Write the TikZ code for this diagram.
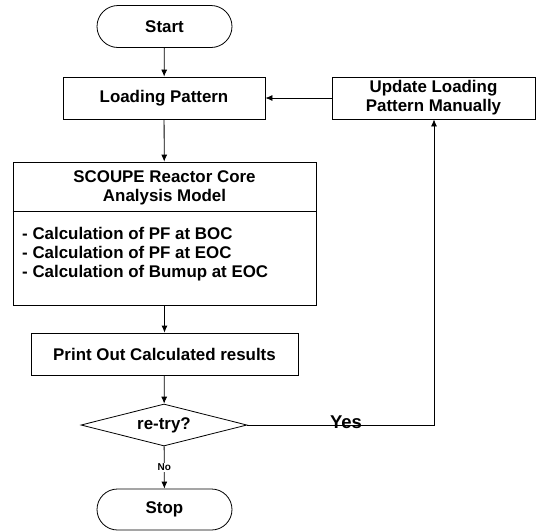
\documentclass[tikz,border=0pt]{standalone}
\usepackage{fontspec}
\setmainfont{Liberation Sans}
\usetikzlibrary{arrows.meta,shapes.geometric,calc}
\begin{document}
\begin{tikzpicture}[x=1pt,y=1pt,
  every node/.style={font=\bfseries\fontsize{16.9}{19}\selectfont},
  box/.style={draw, line width=0.8pt, minimum height=42pt, inner sep=0pt, align=center},
  term/.style={box, rounded corners=21pt, minimum width=135pt},
  dec/.style={draw, line width=0.8pt, diamond, aspect=4, minimum width=166pt, minimum height=42pt, inner sep=0pt},
  conn/.style={line width=0.8pt, -{Latex[length=7pt,width=6pt]}},
  line/.style={line width=0.8pt}]
\useasboundingbox (0,0) rectangle (539,-531);
\node[term] (start) at (164.5,-26.5) {Start};
\node[box, minimum width=202pt] (load) at (164,-98) {Loading Pattern};
\node[box, minimum width=203pt] (upd) at (433.5,-98) {Update Loading\\Pattern Manually};
\node[draw, line width=0.8pt, minimum width=303pt, minimum height=143pt, inner sep=0pt] (sc) at (164.5,-233.5) {};
\node[align=center, inner sep=0pt] (sctitle) at (164.5,-187.5) {SCOUPE Reactor Core\\Analysis Model};
\node[align=left, anchor=west, inner sep=0pt] (sclist) at (22,-254.5) {- Calculation of PF at BOC\\- Calculation of PF at EOC\\- Calculation of Bumup at EOC};
\coordinate (dl) at ($(sc.north west)+(0,-50)$);
\coordinate (dr) at ($(sc.north east)+(0,-50)$);
\draw[line] (dl) -- (dr);
\node[box, minimum width=267pt] (print) at (164.5,-354) {Print Out Calculated results};
\node[dec] (retry) at (164,-425) {re-try?};
\node[term, minimum height=41pt, rounded corners=20.5pt] (stop) at (164.5,-509.5) {Stop};
\coordinate (corner) at (434,-425);
\draw[conn] (start) -- (load);
\draw[conn] (load) -- (sc);
\draw[conn] (sc) -- (print);
\draw[conn] (print) -- (retry);
\draw[conn] (retry) -- node[fill=white, inner sep=1pt, font=\bfseries\fontsize{10}{12}\selectfont] {No} (stop);
\draw[conn] (upd) -- (load);
\draw[conn] (retry.east) -- (corner) -- (corner |- upd.south);
\node[anchor=base, inner sep=0pt, font=\bfseries\fontsize{18.5}{22}\selectfont] (yes) at (346,-428) {Yes};
\end{tikzpicture}
\end{document}
